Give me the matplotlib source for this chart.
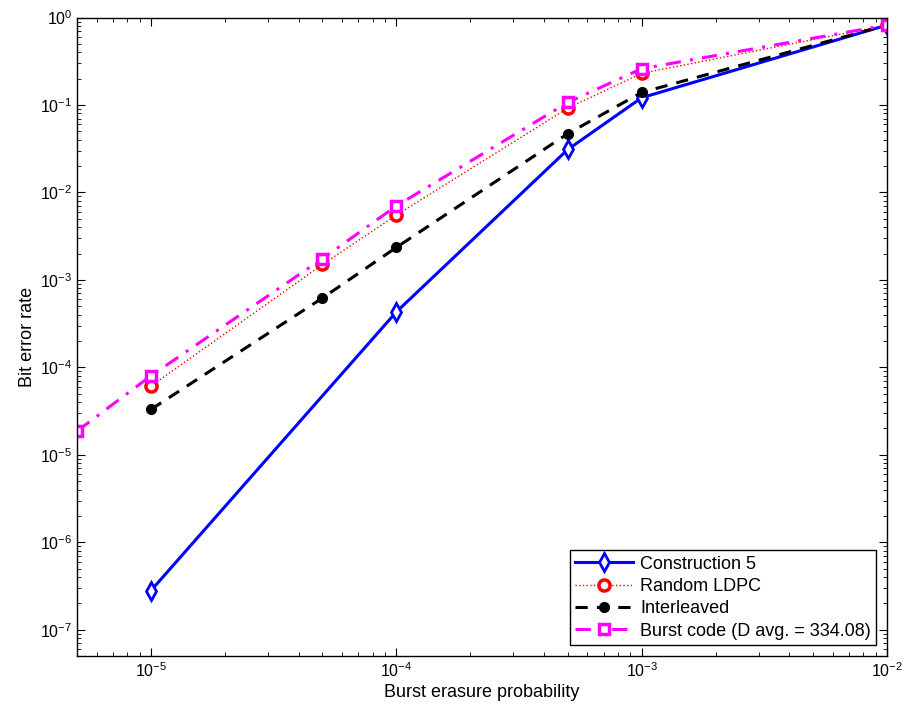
import matplotlib
matplotlib.use("Agg")
import matplotlib.pyplot as plt

plt.rcParams['font.family'] = ['Liberation Sans', 'DejaVu Sans']
plt.rcParams['mathtext.fontset'] = 'custom'
plt.rcParams['mathtext.rm'] = 'Liberation Sans'
plt.rcParams['mathtext.it'] = 'Liberation Sans'

# Data
x_c5 = [1e-5, 1e-4, 5e-4, 1e-3, 1e-2]
y_c5 = [2.8e-7, 4.3e-4, 0.031, 0.121, 0.82]

x_ldpc = [1e-5, 5e-5, 1e-4, 5e-4, 1e-3, 1e-2]
y_ldpc = [6.1e-5, 1.5e-3, 5.5e-3, 0.092, 0.23, 0.82]

x_int = [1e-5, 5e-5, 1e-4, 5e-4, 1e-3, 1e-2]
y_int = [3.3e-5, 6.2e-4, 2.35e-3, 0.047, 0.139, 0.82]

x_burst = [5e-6, 1e-5, 5e-5, 1e-4, 5e-4, 1e-3, 1e-2]
y_burst = [1.87e-5, 8.0e-5, 1.75e-3, 7.0e-3, 0.107, 0.26, 0.82]

fig = plt.figure(figsize=(9.07, 7.15), dpi=100)
ax = fig.add_axes([0.085, 0.0825, 0.893, 0.893])

ax.plot(x_c5, y_c5, color='#0000ff', linestyle='-', linewidth=2.2,
        marker='d', markersize=9, markerfacecolor='white',
        markeredgecolor='#0000ff', markeredgewidth=2, label='Construction 5')
ax.plot(x_ldpc, y_ldpc, color='#ff0000', linestyle=':', linewidth=1.0,
        marker='o', markersize=8, markerfacecolor='white',
        markeredgecolor='#ff0000', markeredgewidth=2.5, label='Random LDPC')
ax.plot(x_int, y_int, color='black', linestyle=(0, (4, 3)), linewidth=2.2,
        marker='o', markersize=7, markerfacecolor='black',
        markeredgecolor='black', label='Interleaved')
ax.plot(x_burst, y_burst, color='#ff00ff', linestyle=(0, (5, 3, 1, 3)), linewidth=2.2,
        marker='s', markersize=7, markerfacecolor='white',
        markeredgecolor='#ff00ff', markeredgewidth=2.5,
        label='Burst code (D avg. = 334.08)')

ax.set_xscale('log')
ax.set_yscale('log')
ax.set_xlim(5e-6, 1e-2)
ax.set_ylim(5e-8, 1)
ax.set_xlabel('Burst erasure probability', fontsize=13, labelpad=3)
ax.set_ylabel('Bit error rate', fontsize=13, labelpad=3)
ax.tick_params(which='both', direction='in', top=True, right=True, labelsize=11.5)
ax.tick_params(which='major', length=6)
ax.tick_params(which='minor', length=3)
for s in ax.spines.values():
    s.set_linewidth(1.0)

leg = ax.legend(loc='lower right', fontsize=13, fancybox=False, framealpha=1,
                edgecolor='black', handlelength=3.2, handletextpad=0.4,
                borderpad=0.3, labelspacing=0.3, borderaxespad=0.6)
leg.get_frame().set_linewidth(1.0)

fig.savefig('out.png', dpi=100)
